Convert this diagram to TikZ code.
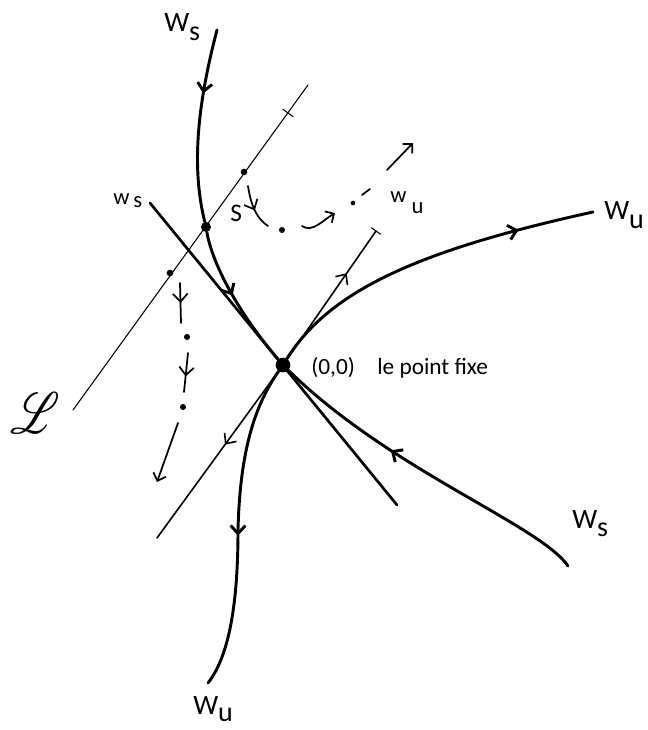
\documentclass[tikz,border=0pt]{standalone}
\usepackage{fontspec}
\setmainfont{Carlito}
\usepackage{mathrsfs}
\usetikzlibrary{arrows.meta,decorations.markings}

\newcommand{\low}[2][0.3em]{\raisebox{-#1}{#2}}

\begin{document}
\begin{tikzpicture}[x=0.75pt, y=-0.75pt,
  every node/.style={inner sep=0pt},
  manifold/.style={line width=2.2pt, line cap=round},
  tline/.style={line width=#1, line cap=round},
  midtip/.style={postaction={decorate, decoration={markings,
      mark=at position #1 with {\arrow{Straight Barb[length=6pt,width=11pt]}}}}},
  hop/.style={line width=1.3pt, line cap=round},
  hoptip/.style={hop, -{Straight Barb[length=5pt,width=10pt]}},
  dot/.style={circle, fill, inner sep=0pt, minimum size=#1},
  bigW/.style={anchor=base west, font=\fontsize{21}{21}\selectfont},
  smallw/.style={anchor=base west, font=\fontsize{17}{17}\selectfont},
  txt/.style={anchor=base west, font=\fontsize{17.5}{17.5}\selectfont}]
  \useasboundingbox (0,0) rectangle (647,730);

  % points
  \node[dot=11pt] (O) at (283,365) {};
  \node[dot=7.5pt] (S) at (206,227) {};
  \node[dot=5pt] (L1) at (244,172) {};
  \node[dot=5pt] (L2) at (170,273) {};
  \coordinate (WsTop) at (217,30);
  \coordinate (WsEnd) at (568,566);
  \coordinate (WuEnd) at (593,212);
  \coordinate (WuMid) at (238,530);
  \coordinate (WuBot) at (208,683);
  \coordinate (wsA) at (150,203);
  \coordinate (wsB) at (397,505);
  \coordinate (wuA) at (376,231);
  \coordinate (wuB) at (157,538);
  \coordinate (LA) at (73,410);
  \coordinate (LB) at (308,85);
  \coordinate (Ltick) at (288,113);

  % the line L and the tangent lines
  \draw[tline=0.8pt] (LA) -- (LB);
  \draw[tline=0.8pt] (Ltick) ++(-5,-3.6) -- ++(10,7.2);
  \draw[tline=2pt] (wsA) -- (wsB);
  \draw[tline=1.2pt, midtip=0.67] (O) -- (wuA);
  \draw[tline=1.2pt, midtip=0.44] (O) -- (wuB);
  \draw[tline=0.8pt] (wuA) ++(-4.5,-3.2) -- ++(9,6.4);

  % stable and unstable manifolds
  \draw[manifold, midtip=0.19, midtip=0.77]
    (WsTop) .. controls (196,110) and (192,170) .. (S)
            .. controls (212,262) and (236,310) .. (O);
  \draw[manifold, midtip=0.62]
    (WsEnd) .. controls (540,525) and (390,470) .. (O);
  \draw[manifold, midtip=0.78]
    (O) .. controls (330,290) and (420,250) .. (WuEnd);
  \draw[manifold, midtip=0.53]
    (O) .. controls (255,405) and (240,450) .. (WuMid)
        .. controls (238,600) and (230,655) .. (WuBot);

  % iterates from S
  \coordinate (h1) at (248,186);
  \coordinate (h2) at (268,226);
  \node[dot=4.5pt] (p1) at (282,230) {};
  \coordinate (h3) at (302,226);
  \coordinate (h4) at (335,213);
  \node[dot=3.5pt] (p2) at (353,203) {};
  \coordinate (h5) at (362,195);
  \coordinate (h6) at (370,189);
  \coordinate (h7) at (387,170);
  \coordinate (h8) at (413,143);
  \draw[hop, midtip=0.55] (h1) .. controls (251,206) and (257,219) .. (h2);
  \draw[hoptip] (h3) .. controls (312,233) and (322,221) .. (h4);
  \draw[hop] (h5) -- (h6);
  \draw[hoptip] (h7) -- (h8);

  % iterates from the point of L
  \coordinate (k1) at (180,283);
  \coordinate (k2) at (181,323);
  \node[dot=4.5pt] (q1) at (187,337) {};
  \coordinate (k3) at (188,353);
  \coordinate (k4) at (184,392);
  \node[dot=4.5pt] (q2) at (183,407) {};
  \coordinate (k5) at (178,423);
  \coordinate (k6) at (157,482);
  \draw[hop, midtip=0.5] (k1) -- (k2);
  \draw[hop, midtip=0.6] (k3) -- (k4);
  \draw[hoptip] (k5) -- (k6);

  % labels
  \node[bigW] (tWs1) at (164,32) {W\low{s}};
  \node[bigW] (tWu1) at (604,220) {W\low{u}};
  \node[bigW] (tWs2) at (572,528) {W\low{s}};
  \node[bigW] (tWu2) at (193,714) {W\low[0.25em]{u}};
  \node[smallw] (tws) at (113,205) {w\,\low[0.12em]{s}};
  \node[smallw] (twu) at (390,203) {w\ \low[0.45em]{u}};
  \node[bigW, font=\fontsize{19}{19}\selectfont] (tS) at (230,222) {S};
  \node[txt] (tO) at (311,374) {(0,0)};
  \node[txt] (tfix) at (377,374) {le point fixe};
  \node[scale=2.1, xscale=0.8, font=\fontsize{20}{20}\selectfont] (tL) at (35,413) {$\mathscr{L}$};
\end{tikzpicture}
\end{document}
